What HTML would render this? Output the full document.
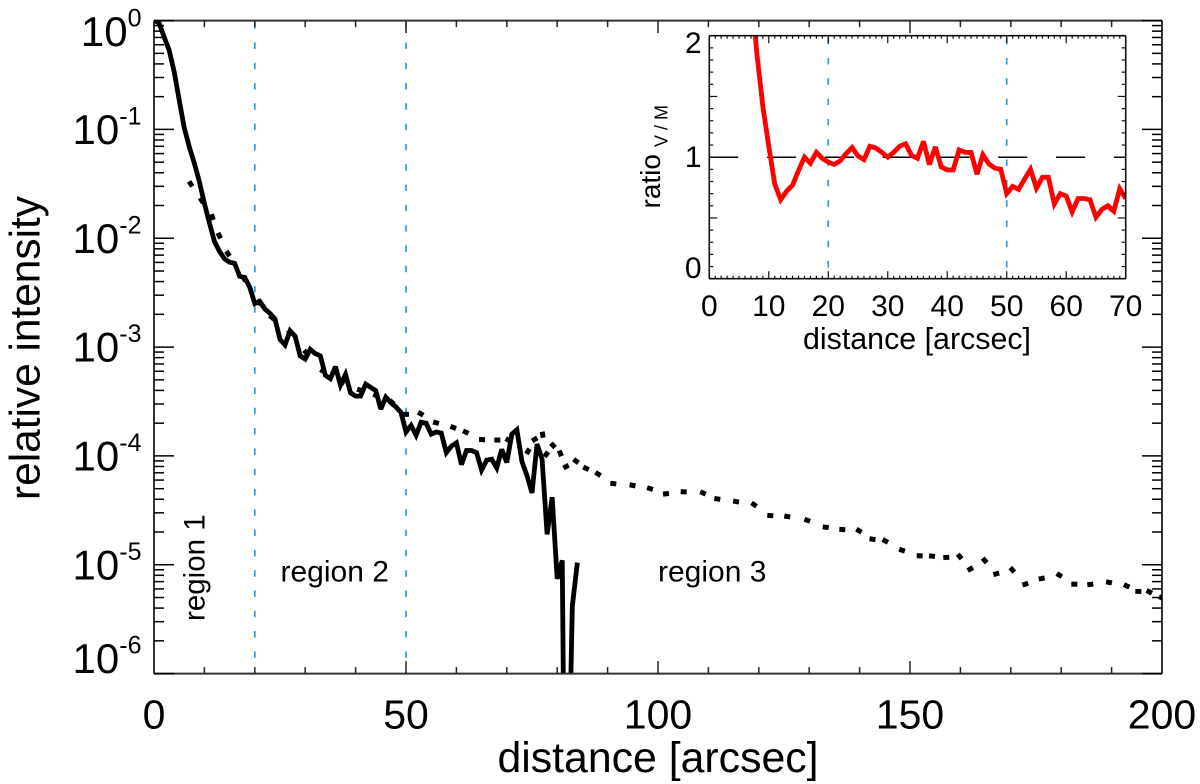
<!DOCTYPE html>
<html lang="en">
<head>
<meta charset="utf-8">
<title>Relative intensity vs distance</title>
<style>
html,body{margin:0;padding:0;background:#fff;width:1200px;height:784px;overflow:hidden}
svg{display:block;font-family:"Liberation Sans",Arial,sans-serif}
text{fill:#000}
</style>
</head>
<body>
<svg id="chart" xmlns="http://www.w3.org/2000/svg" width="1200" height="784" viewBox="0 0 1200 784">
  <defs>
    <clipPath id="mainClip"><rect x="154" y="20" width="1008" height="654"></rect></clipPath>
    <clipPath id="insetClip"><rect x="709.3" y="35.7" width="416.4" height="243"></rect></clipPath>
  </defs>
  <rect width="1200" height="784" fill="#fff"></rect>
  <g id="mainGuides"></g>
  <g id="mainMarks" clip-path="url(#mainClip)"></g>
  <g id="mainAxes"></g>
  <g id="insetMarks"></g>
  <g id="insetAxes"></g>
  <text x="658" y="772" font-size="42.8" text-anchor="middle">distance [arcsec]</text>
  <text transform="translate(39.5,348) rotate(-90)" font-size="42.4" text-anchor="middle">relative intensity</text>
  <text transform="translate(204.3,621) rotate(-90)" font-size="29.5">region 1</text>
  <text x="280.5" y="581.5" font-size="30">region 2</text>
  <text x="658" y="581.5" font-size="30">region 3</text>
  <text x="917" y="349" font-size="30.4" text-anchor="middle">distance [arcsec]</text>
  <text transform="translate(660,208.5) rotate(-90)" font-size="28">ratio<tspan font-size="18" dx="7" dy="7.3">V / M</tspan></text>
</svg>
<script>
// Main panel: measured profile (log10 relative intensity)
var solidDistance = [0,1,2,3,4,5,6,7,8,9,10,11,12,13,14,15,16,17,18,19,20,21,22,23,24,25,26,27,28,29,30,31,32,33,34,35,36,37,38,39,40,41,42,43,44,45,46,47,48,49,50,51,52,53,54,55,56,57,58,59,60,61,62,63,64,65,66,67,68,69,70,71,72,73,74,75,76,77,78,79,80,81,81.33,82.46,83,84];
var solidLogIntensity = [0,-0.02,-0.15,-0.27,-0.47,-0.73,-0.985,-1.16,-1.31,-1.48,-1.68,-1.86,-2.03,-2.12,-2.19,-2.22,-2.23,-2.35,-2.36,-2.45,-2.6,-2.58,-2.65,-2.69,-2.74,-2.93,-2.98,-2.85,-2.9,-3.08,-3.11,-3.02,-3.06,-3.08,-3.26,-3.29,-3.18,-3.35,-3.25,-3.42,-3.45,-3.45,-3.34,-3.37,-3.4,-3.57,-3.46,-3.51,-3.55,-3.6,-3.78,-3.72,-3.81,-3.69,-3.7,-3.8,-3.78,-3.79,-3.97,-3.91,-3.88,-4.08,-3.95,-3.95,-3.97,-4.13,-4.04,-4.03,-4.11,-3.94,-4.06,-3.8,-3.76,-4.05,-4.18,-4.34,-3.89,-4.03,-4.72,-4.38,-5.13,-4.96,-6.6,-6.6,-5.38,-4.98];
// Main panel: dotted profile (positions of the dots as read)
var dottedDistance = [7.28,9.46,11.57,12.96,14.68,17.86,20.83,23.41,26.98,30.16,33.53,37.3,40.87,44.05,47.16,50,52.92,55.95,59.38,61.85,65.08,68.12,70.3,74.21,75.54,77.12,77.84,79.17,80.62,81.75,83.73,85.71,88.1,91.13,94.94,98.41,101.59,105.1,108.93,111.77,115.48,119.05,122.28,125.65,129.62,133.27,136.57,139.88,142.56,145.1,148.41,151.92,154.37,157.2,159.86,161.96,164.82,167.12,170.3,172.88,176.13,179.62,182.6,185.77,189.48,192.99,195.3,197.48,199.94];
var dottedLogIntensity = [-1.5,-1.652,-1.805,-1.976,-2.141,-2.37,-2.588,-2.728,-2.866,-3.05,-3.22,-3.32,-3.395,-3.444,-3.505,-3.618,-3.612,-3.695,-3.738,-3.781,-3.85,-3.854,-3.854,-3.958,-3.848,-3.805,-3.985,-3.903,-3.976,-4.098,-4.047,-4.114,-4.166,-4.254,-4.27,-4.3,-4.348,-4.33,-4.34,-4.395,-4.419,-4.447,-4.548,-4.557,-4.591,-4.655,-4.676,-4.687,-4.765,-4.781,-4.866,-4.918,-4.921,-4.933,-4.924,-5.04,-4.96,-5.083,-5.047,-5.178,-5.126,-5.095,-5.178,-5.181,-5.162,-5.194,-5.245,-5.249,-5.304];
// Inset: V/M ratio
var ratioDistance = [7.7,8,9,10,11,12,13,14,15,16,17,18,19,20,21,22,23,24,25,26,27,28,29,30,31,32,33,34,35,36,37,38,39,40,41,42,43,44,45,46,47,48,49,50,51,52,53,54,55,56,57,58,59,60,61,62,63,64,65,66,67,68,69,70];
var ratioValues = [2.02,1.85,1.42,1.09,0.78,0.65,0.72,0.77,0.89,1.0,0.95,1.04,0.99,0.96,0.94,0.97,1.03,1.08,1.01,0.98,1.09,1.075,1.04,1.0,1.04,1.09,1.11,1.015,0.99,1.13,0.94,1.085,0.92,0.895,0.895,1.06,1.04,1.04,0.86,1.02,0.945,0.91,0.9,0.7,0.76,0.735,0.82,0.9,0.745,0.835,0.835,0.615,0.7,0.68,0.55,0.66,0.66,0.65,0.505,0.57,0.6,0.555,0.74,0.66];
// Shared
var regionBoundaries = [20, 50];
var referenceRatio = [1];
// Tick labels
var mainXTickLabels = [0, 50, 100, 150, 200];
var mainYTickExponents = [0, -1, -2, -3, -4, -5, -6];
var insetXTickLabels = [0, 10, 20, 30, 40, 50, 60, 70];
var insetYTickLabels = [0, 1, 2];

var NS = 'http://www.w3.org/2000/svg';
var LEFT = 154, RIGHT = 1162, TOP = 20.6, BOTTOM = 673.6;
var ILEFT = 709.3, IRIGHT = 1125.7, ITOP = 35.7, IBOTTOM = 278.7;

function xMain(d) { return LEFT + (d / 200) * (RIGHT - LEFT); }
function yMain(logV) { return TOP + (-logV / 6) * (BOTTOM - TOP); }
function xInset(d) { return ILEFT + (d / 70) * (IRIGHT - ILEFT); }
function yInset(r) { return IBOTTOM - (r / 2) * (IBOTTOM - ITOP); }

function line(parent, name, x1, y1, x2, y2, stroke, width, dash) {
  var el = document.createElementNS(NS, 'line');
  
  
  el.setAttribute('x1', x1);
  el.setAttribute('y1', y1);
  el.setAttribute('x2', x2);
  el.setAttribute('y2', y2);
  el.setAttribute('stroke', stroke);
  el.setAttribute('stroke-width', width);
  if (dash) el.setAttribute('stroke-dasharray', dash);
  parent.appendChild(el);
  return el;
}
function label(parent, name, x, y, size, anchor, str) {
  var el = document.createElementNS(NS, 'text');
  
  
  el.setAttribute('x', x);
  el.setAttribute('y', y);
  el.setAttribute('font-size', size);
  el.setAttribute('text-anchor', anchor);
  el.textContent = str;
  parent.appendChild(el);
  return el;
}
function polyline(parent, name, xs, ys, fx, fy, stroke, width) {
  var el = document.createElementNS(NS, 'polyline');
  
  
  var pts = [];
  for (var i = 0; i < xs.length; i++) pts.push(fx(xs[i]).toFixed(2) + ',' + fy(ys[i]).toFixed(2));
  el.setAttribute('points', pts.join(' '));
  el.setAttribute('fill', 'none');
  el.setAttribute('stroke', stroke);
  el.setAttribute('stroke-width', width);
  el.setAttribute('stroke-linejoin', 'miter');
  el.setAttribute('stroke-miterlimit', '3');
  parent.appendChild(el);
  return el;
}

var mainGuides = document.getElementById('mainGuides');
var mainMarks = document.getElementById('mainMarks');
var mainAxes = document.getElementById('mainAxes');
var insetMarks = document.getElementById('insetMarks');
var insetAxes = document.getElementById('insetAxes');

// Main panel guides
regionBoundaries.forEach(function (b) {
  line(mainGuides, 'region-boundary-' + b, xMain(b), TOP + 1.5, xMain(b), BOTTOM, '#2a9dd4', 1.7, '6.5 13.8');
});

// Main dotted series
dottedDistance.forEach(function (d, i) {
  var n = Math.min(i + 1, dottedDistance.length - 1);
  var p = n === i ? i - 1 : i;
  var q = n === i ? i : n;
  var dx = xMain(dottedDistance[q]) - xMain(dottedDistance[p]);
  var dy = yMain(dottedLogIntensity[q]) - yMain(dottedLogIntensity[p]);
  var len = Math.sqrt(dx * dx + dy * dy) || 1;
  var cx = xMain(d), cy = yMain(dottedLogIntensity[i]);
  line(mainMarks, 'dotted-profile-dot', cx - 3 * dx / len, cy - 3 * dy / len, cx + 3 * dx / len, cy + 3 * dy / len, '#000', 5);
});

// Main solid series
polyline(mainMarks, 'solid-profile-line', solidDistance, solidLogIntensity, xMain, yMain, '#000', 4.8);

// Main axes frame
line(mainAxes, 'main-top-axis', LEFT, TOP, RIGHT, TOP, '#333', 2);
line(mainAxes, 'main-bottom-axis', LEFT, BOTTOM, RIGHT, BOTTOM, '#333', 2);
line(mainAxes, 'main-left-axis', LEFT, TOP, LEFT, BOTTOM, '#000', 1.6);
line(mainAxes, 'main-right-axis', RIGHT, TOP, RIGHT, BOTTOM, '#000', 1.6);

// Main x ticks
for (var d = 0; d <= 200; d += 10) {
  var major = d % 50 === 0;
  var tl = major ? 12.5 : 6.5;
  line(mainAxes, 'main-x-tick-bottom', xMain(d), BOTTOM, xMain(d), BOTTOM - tl, '#222', 1.5);
  line(mainAxes, 'main-x-tick-top', xMain(d), TOP, xMain(d), TOP + tl, '#222', 1.5);
}
mainXTickLabels.forEach(function (v) {
  label(mainAxes, 'main-x-tick-label', xMain(v), 728.5, 41, 'middle', String(v));
});

// Main y ticks
for (var e = 0; e >= -6; e--) {
  line(mainAxes, 'main-y-tick-major-left', LEFT, yMain(e), LEFT + 20, yMain(e), '#000', 1.5);
  line(mainAxes, 'main-y-tick-major-right', RIGHT, yMain(e), RIGHT - 20, yMain(e), '#000', 1.5);
  if (e > -6) {
    for (var m = 2; m <= 9; m++) {
      var lv = e - 1 + Math.log10(m);
      line(mainAxes, 'main-y-tick-minor-left', LEFT, yMain(lv), LEFT + 10, yMain(lv), '#000', 1.5);
      line(mainAxes, 'main-y-tick-minor-right', RIGHT, yMain(lv), RIGHT - 10, yMain(lv), '#000', 1.5);
    }
  }
}
mainYTickExponents.forEach(function (e) {
  var base = Math.max(46, Math.min(673, yMain(e) + 14.5));
  var el = label(mainAxes, 'main-y-tick-label', 141.5, base, 42, 'end', '10');
  var sup = document.createElementNS(NS, 'tspan');
  sup.setAttribute('font-size', '25');
  sup.setAttribute('dy', '-19.5');
  sup.textContent = String(e);
  el.appendChild(sup);
});

// Inset panel
var insetBg = document.createElementNS(NS, 'rect');


insetBg.setAttribute('x', ILEFT);
insetBg.setAttribute('y', ITOP);
insetBg.setAttribute('width', IRIGHT - ILEFT);
insetBg.setAttribute('height', IBOTTOM - ITOP);
insetBg.setAttribute('fill', '#fff');
insetMarks.appendChild(insetBg);

regionBoundaries.forEach(function (b) {
  line(insetMarks, 'inset-region-boundary-' + b, xInset(b), ITOP + 2, xInset(b), IBOTTOM, '#2a9dd4', 1.7, '6.5 13.8');
});
referenceRatio.forEach(function (r) {
  line(insetMarks, 'inset-reference-line', ILEFT, yInset(r), IRIGHT, yInset(r), '#000', 1.5, '29 28.8');
});
var ratioLine = polyline(insetMarks, 'ratio-line', ratioDistance, ratioValues, xInset, yInset, '#f00', 4.8);
ratioLine.setAttribute('clip-path', 'url(#insetClip)');

line(insetAxes, 'inset-top-axis', ILEFT, ITOP, IRIGHT, ITOP, '#111', 1.6);
line(insetAxes, 'inset-bottom-axis', ILEFT, IBOTTOM, IRIGHT, IBOTTOM, '#111', 1.6);
line(insetAxes, 'inset-left-axis', ILEFT, ITOP, ILEFT, IBOTTOM, '#111', 1.6);
line(insetAxes, 'inset-right-axis', IRIGHT, ITOP, IRIGHT, IBOTTOM, '#111', 1.6);

for (var k = 0; k <= 70; k++) {
  var maj = k % 10 === 0;
  var l2 = maj ? 7.5 : 3;
  line(insetAxes, 'inset-x-tick-bottom', xInset(k), IBOTTOM, xInset(k), IBOTTOM - l2, '#111', 1.2);
  line(insetAxes, 'inset-x-tick-top', xInset(k), ITOP, xInset(k), ITOP + l2, '#111', 1.2);
}
for (var t = 0; t <= 20; t++) {
  var majY = t % 5 === 0;
  var l3 = majY ? 8 : 4;
  line(insetAxes, 'inset-y-tick-left', ILEFT, yInset(t / 10), ILEFT + l3, yInset(t / 10), '#111', 1.2);
  line(insetAxes, 'inset-y-tick-right', IRIGHT, yInset(t / 10), IRIGHT - l3, yInset(t / 10), '#111', 1.2);
}
insetXTickLabels.forEach(function (v) {
  label(insetAxes, 'inset-x-tick-label', xInset(v), 316, 30, 'middle', String(v));
});
insetYTickLabels.forEach(function (v) {
  var base = Math.max(53, Math.min(278, yInset(v) + 10));
  label(insetAxes, 'inset-y-tick-label', 701.5, base, 30, 'end', String(v));
});
</script>
</body>
</html>
